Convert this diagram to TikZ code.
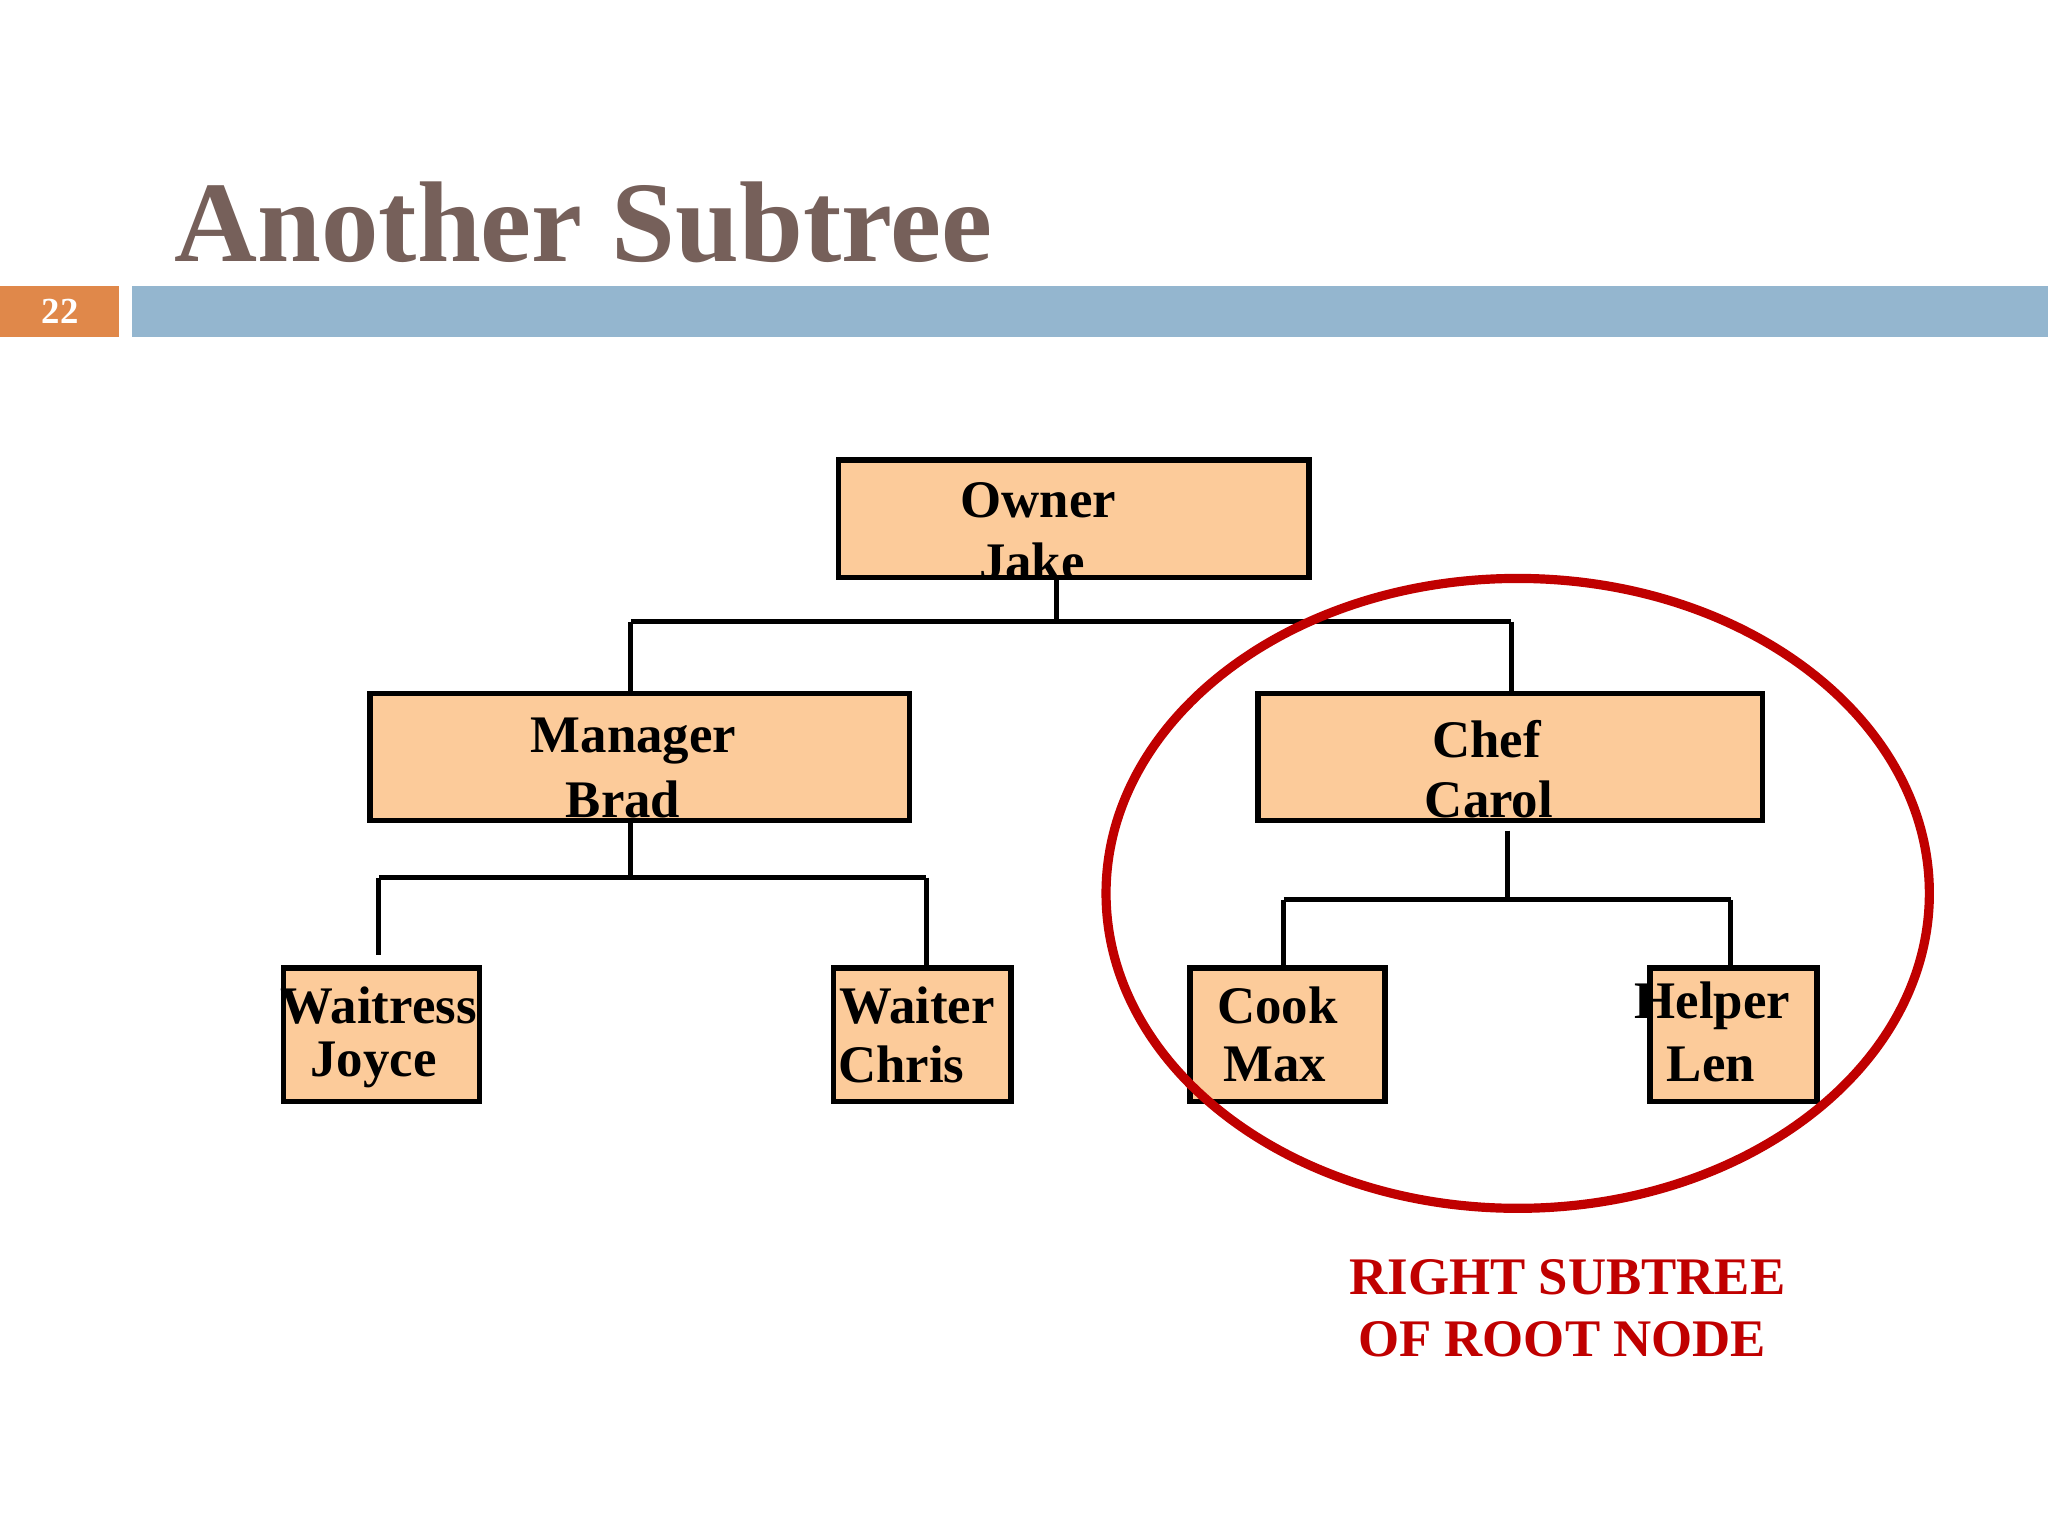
\documentclass[tikz,border=0pt]{standalone}
\usepackage{fontspec}
\setmainfont{Liberation Serif}
\begin{document}
\begin{tikzpicture}[x=0.01cm,y=-0.01cm,
  box/.style={draw=black,line width=1.2pt,fill=boxfill,inner sep=0pt,anchor=north west},
  lbl/.style={font=\fontsize{11.5pt}{11.5pt}\selectfont\bfseries},
  conn/.style={line width=1.1pt}]
\definecolor{boxfill}{HTML}{FCCB9A}
\definecolor{titlec}{HTML}{76605A}
\definecolor{bandblue}{HTML}{94B6CF}
\definecolor{bandor}{HTML}{E0884A}
\definecolor{redc}{HTML}{C00000}
\useasboundingbox (0,0) rectangle (1568,1176);
\fill[white] (0,0) rectangle (1568,1176);
% header
\fill[bandor] (0,219) rectangle (91,258);
\fill[bandblue] (101,219) rectangle (1568,258);
\node[font=\fontsize{8pt}{8pt}\selectfont\bfseries,text=white] (num) at (46,238) {22};
\node[anchor=base west,font=\fontsize{25pt}{25pt}\selectfont\bfseries,text=titlec,inner sep=0pt] (title) at (133,200) {Another Subtree};
% boxes
\node[box,minimum width=3.60cm,minimum height=0.90cm] (owner) at (640,350) {};
\node[box,minimum width=4.13cm,minimum height=0.97cm] (manager) at (281,529) {};
\node[box,minimum width=3.86cm,minimum height=0.97cm] (chef) at (961,529) {};
\node[box,minimum width=1.50cm,minimum height=1.02cm] (waitress) at (215,739) {};
\node[box,minimum width=1.36cm,minimum height=1.02cm] (waiter) at (636,739) {};
\node[box,minimum width=1.49cm,minimum height=1.02cm] (cook) at (909,739) {};
\node[box,minimum width=1.28cm,minimum height=1.02cm] (helper) at (1261,739) {};
% labels
\node[lbl] (t1) at (795,383) {Owner};
\node[lbl] (t2) at (790,430) {Jake};
\node[lbl] (t3) at (485,567) {Manager};
\node[lbl] (t4) at (477,612) {Brad};
\node[lbl] (t5) at (1138,566) {Chef};
\node[lbl] (t6) at (1140,612) {Carol};
\node[lbl] (t7) at (290,770) {Waitress};
\node[lbl] (t8) at (286,815) {Joyce};
\node[lbl] (t9) at (702,770) {Waiter};
\node[lbl] (t10) at (690,815) {Chris};
\node[lbl] (t11) at (978,770) {Cook};
\node[lbl] (t12) at (976,815) {Max};
\node[lbl] (t13) at (1311,770) {Helper};
\node[lbl] (t14) at (1310,815) {Len};
% connectors
\coordinate (j1) at (809,476);
\coordinate (j2) at (483,672);
\coordinate (j3) at (1154,689);
\coordinate (a1) at (483,476);
\coordinate (a2) at (1157,476);
\coordinate (b1) at (290,672);
\coordinate (b2) at (709,672);
\coordinate (c1) at (983,689);
\coordinate (c2) at (1325,689);
\draw[conn] (owner.south -| j1) -- (j1);
\draw[conn] (a1) -- (a2);
\draw[conn] (a1) -- (a1 |- manager.north);
\draw[conn] (a2) -- (a2 |- chef.north);
\draw[conn] (j2 |- manager.south) -- (j2);
\draw[conn] (b1) -- (b2);
\draw[conn] (b1) -- (290,731);
\draw[conn] (b2) -- (b2 |- waiter.north);
\draw[conn] (1154,636) -- (j3);
\draw[conn] (c1) -- (c2);
\draw[conn] (c1) -- (c1 |- cook.north);
\draw[conn] (c2) -- (c2 |- helper.north);
% ellipse
\draw[redc,line width=2pt] (1162,684) ellipse [x radius=3.15cm,y radius=2.41cm];
\node[lbl,text=redc] (r1) at (1200,978) {RIGHT SUBTREE};
\node[lbl,text=redc] (r2) at (1196,1025) {OF ROOT NODE};
\end{tikzpicture}
\end{document}
